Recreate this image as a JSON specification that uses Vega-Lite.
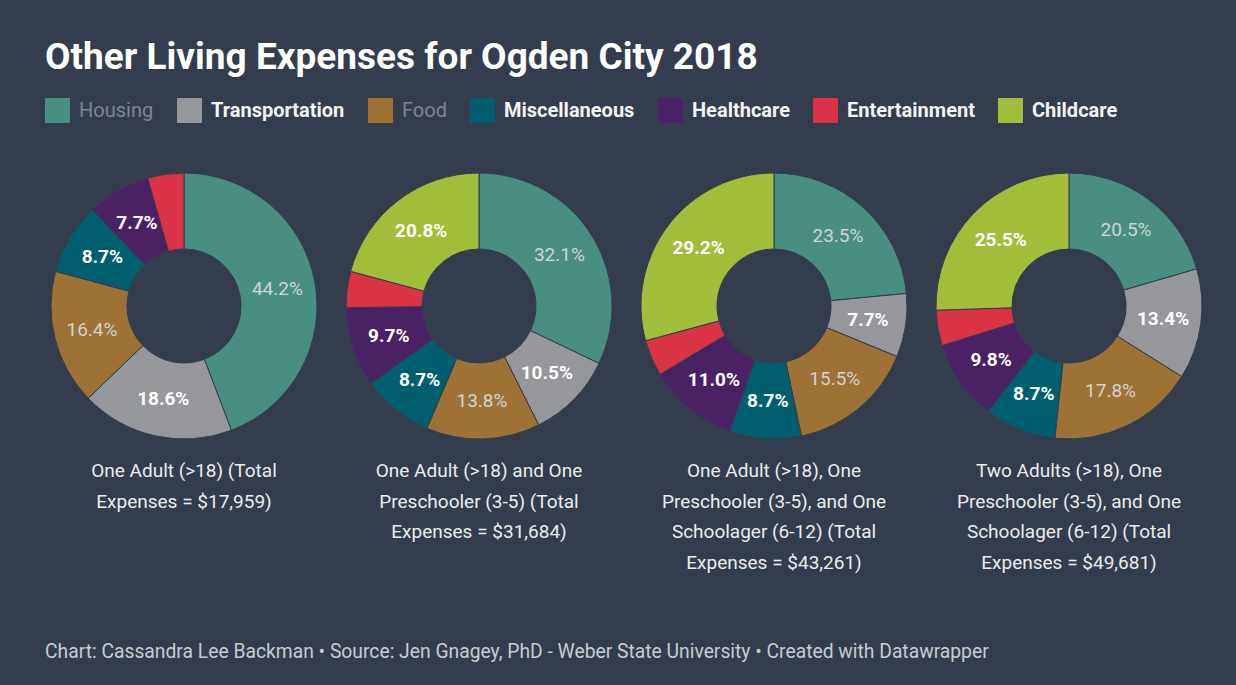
{
  "$schema": "https://vega.github.io/schema/vega-lite/v6.json",
  "background": "#333d4d",
  "padding": {"left": 45, "top": 39, "right": 28, "bottom": 24},
  "config": {
    "font": "Roboto",
    "view": {"stroke": null},
    "title": {"font": "Roboto"},
    "legend": {"orient": "top", "direction": "horizontal", "symbolType": "square", "symbolSize": 625, "symbolStrokeWidth": 0, "symbolOpacity": 1, "labelFontSize": 20, "labelFont": "Roboto", "labelOffset": 9, "columnPadding": 23, "offset": 45}
  },
  "datasets": {
    "expenses": [
      {"scenario": "A", "category": "Housing", "rank": 1, "value": 0.442},
      {"scenario": "A", "category": "Transportation", "rank": 2, "value": 0.186},
      {"scenario": "A", "category": "Food", "rank": 3, "value": 0.164},
      {"scenario": "A", "category": "Miscellaneous", "rank": 4, "value": 0.087},
      {"scenario": "A", "category": "Healthcare", "rank": 5, "value": 0.077},
      {"scenario": "A", "category": "Entertainment", "rank": 6, "value": 0.044},
      {"scenario": "B", "category": "Housing", "rank": 1, "value": 0.321},
      {"scenario": "B", "category": "Transportation", "rank": 2, "value": 0.105},
      {"scenario": "B", "category": "Food", "rank": 3, "value": 0.138},
      {"scenario": "B", "category": "Miscellaneous", "rank": 4, "value": 0.087},
      {"scenario": "B", "category": "Healthcare", "rank": 5, "value": 0.097},
      {"scenario": "B", "category": "Entertainment", "rank": 6, "value": 0.044},
      {"scenario": "B", "category": "Childcare", "rank": 7, "value": 0.208},
      {"scenario": "C", "category": "Housing", "rank": 1, "value": 0.235},
      {"scenario": "C", "category": "Transportation", "rank": 2, "value": 0.077},
      {"scenario": "C", "category": "Food", "rank": 3, "value": 0.155},
      {"scenario": "C", "category": "Miscellaneous", "rank": 4, "value": 0.087},
      {"scenario": "C", "category": "Healthcare", "rank": 5, "value": 0.110},
      {"scenario": "C", "category": "Entertainment", "rank": 6, "value": 0.044},
      {"scenario": "C", "category": "Childcare", "rank": 7, "value": 0.292},
      {"scenario": "D", "category": "Housing", "rank": 1, "value": 0.205},
      {"scenario": "D", "category": "Transportation", "rank": 2, "value": 0.134},
      {"scenario": "D", "category": "Food", "rank": 3, "value": 0.178},
      {"scenario": "D", "category": "Miscellaneous", "rank": 4, "value": 0.087},
      {"scenario": "D", "category": "Healthcare", "rank": 5, "value": 0.098},
      {"scenario": "D", "category": "Entertainment", "rank": 6, "value": 0.043},
      {"scenario": "D", "category": "Childcare", "rank": 7, "value": 0.255}
    ]
  },
  "title": {
    "text": "Other Living Expenses for Ogden City 2018",
    "anchor": "start",
    "fontSize": 37,
    "fontWeight": "bold",
    "color": "#ffffff",
    "offset": 21
  },
  "vconcat": [
    {
      "title": {
        "text": "Chart: Cassandra Lee Backman • Source: Jen Gnagey, PhD - Weber State University • Created with Datawrapper",
        "orient": "bottom",
        "anchor": "start",
        "fontSize": 19.3,
        "fontWeight": "normal",
        "color": "#c8ccd1",
        "offset": 70
      },
      "resolve": {"scale": {"theta": "independent", "color": "shared"}, "legend": {"color": "shared"}},
      "spacing": 17,
      "hconcat": [
        {
          "width": 278, "height": 276,
          "data": {"name": "expenses"},
          "transform": [{"filter": "datum.scenario === 'A'"}],
          "title": {"text": ["One Adult (>18) (Total", "Expenses = $17,959)"], "orient": "bottom", "anchor": "middle", "fontSize": 19, "fontWeight": "normal", "color": "#ececec", "lineHeight": 30.6, "offset": 18},
          "encoding": {
            "theta": {"field": "value", "type": "quantitative", "stack": true},
            "order": {"field": "rank", "type": "quantitative"}
          },
          "layer": [
            {"mark": {"type": "arc", "outerRadius": 133, "innerRadius": 57, "stroke": "#333d4d", "strokeWidth": 1},
             "encoding": {"color": {"field": "category", "type": "nominal",
               "scale": {"domain": ["Housing", "Transportation", "Food", "Miscellaneous", "Healthcare", "Entertainment", "Childcare"],
                         "range": ["#488f81", "#96979b", "#9d7234", "#005f6e", "#4a2165", "#d93345", "#a1bd3a"]},
               "legend": {"title": null,
                 "labelColor": {"expr": "datum.value === 'Housing' || datum.value === 'Food' ? '#7e8592' : '#f4f4f4'"},
                 "labelFontWeight": {"expr": "datum.value === 'Housing' || datum.value === 'Food' ? 'normal' : 'bold'"}}}}},
            {"mark": {"type": "text", "radius": 95, "fontSize": 19, "fontWeight": "normal", "fill": "#cdd5d3"},
             "encoding": {"detail": {"field": "category"}, "text": {"condition": {"test": "datum.category === 'Housing' || datum.category === 'Food'", "field": "value", "format": ".1%"}, "value": ""}}},
            {"mark": {"type": "text", "radius": 95, "fontSize": 19, "fontWeight": "bold", "fill": "#ffffff"},
             "encoding": {"detail": {"field": "category"}, "text": {"condition": {"test": "datum.category !== 'Housing' && datum.category !== 'Food' && datum.category !== 'Entertainment'", "field": "value", "format": ".1%"}, "value": ""}}}
          ]
        },
        {
          "width": 278, "height": 276,
          "data": {"name": "expenses"},
          "transform": [{"filter": "datum.scenario === 'B'"}],
          "title": {"text": ["One Adult (>18) and One", "Preschooler (3-5) (Total", "Expenses = $31,684)"], "orient": "bottom", "anchor": "middle", "fontSize": 19, "fontWeight": "normal", "color": "#ececec", "lineHeight": 30.6, "offset": 18},
          "encoding": {
            "theta": {"field": "value", "type": "quantitative", "stack": true},
            "order": {"field": "rank", "type": "quantitative"}
          },
          "layer": [
            {"mark": {"type": "arc", "outerRadius": 133, "innerRadius": 57, "stroke": "#333d4d", "strokeWidth": 1},
             "encoding": {"color": {"field": "category", "type": "nominal"}}},
            {"mark": {"type": "text", "radius": 95, "fontSize": 19, "fontWeight": "normal", "fill": "#cdd5d3"},
             "encoding": {"detail": {"field": "category"}, "text": {"condition": {"test": "datum.category === 'Housing' || datum.category === 'Food'", "field": "value", "format": ".1%"}, "value": ""}}},
            {"mark": {"type": "text", "radius": 95, "fontSize": 19, "fontWeight": "bold", "fill": "#ffffff"},
             "encoding": {"detail": {"field": "category"}, "text": {"condition": {"test": "datum.category !== 'Housing' && datum.category !== 'Food' && datum.category !== 'Entertainment'", "field": "value", "format": ".1%"}, "value": ""}}}
          ]
        },
        {
          "width": 278, "height": 276,
          "data": {"name": "expenses"},
          "transform": [{"filter": "datum.scenario === 'C'"}],
          "title": {"text": ["One Adult (>18), One", "Preschooler (3-5), and One", "Schoolager (6-12) (Total", "Expenses = $43,261)"], "orient": "bottom", "anchor": "middle", "fontSize": 19, "fontWeight": "normal", "color": "#ececec", "lineHeight": 30.6, "offset": 18},
          "encoding": {
            "theta": {"field": "value", "type": "quantitative", "stack": true},
            "order": {"field": "rank", "type": "quantitative"}
          },
          "layer": [
            {"mark": {"type": "arc", "outerRadius": 133, "innerRadius": 57, "stroke": "#333d4d", "strokeWidth": 1},
             "encoding": {"color": {"field": "category", "type": "nominal"}}},
            {"mark": {"type": "text", "radius": 95, "fontSize": 19, "fontWeight": "normal", "fill": "#cdd5d3"},
             "encoding": {"detail": {"field": "category"}, "text": {"condition": {"test": "datum.category === 'Housing' || datum.category === 'Food'", "field": "value", "format": ".1%"}, "value": ""}}},
            {"mark": {"type": "text", "radius": 95, "fontSize": 19, "fontWeight": "bold", "fill": "#ffffff"},
             "encoding": {"detail": {"field": "category"}, "text": {"condition": {"test": "datum.category !== 'Housing' && datum.category !== 'Food' && datum.category !== 'Entertainment'", "field": "value", "format": ".1%"}, "value": ""}}}
          ]
        },
        {
          "width": 278, "height": 276,
          "data": {"name": "expenses"},
          "transform": [{"filter": "datum.scenario === 'D'"}],
          "title": {"text": ["Two Adults (>18), One", "Preschooler (3-5), and One", "Schoolager (6-12) (Total", "Expenses = $49,681)"], "orient": "bottom", "anchor": "middle", "fontSize": 19, "fontWeight": "normal", "color": "#ececec", "lineHeight": 30.6, "offset": 18},
          "encoding": {
            "theta": {"field": "value", "type": "quantitative", "stack": true},
            "order": {"field": "rank", "type": "quantitative"}
          },
          "layer": [
            {"mark": {"type": "arc", "outerRadius": 133, "innerRadius": 57, "stroke": "#333d4d", "strokeWidth": 1},
             "encoding": {"color": {"field": "category", "type": "nominal"}}},
            {"mark": {"type": "text", "radius": 95, "fontSize": 19, "fontWeight": "normal", "fill": "#cdd5d3"},
             "encoding": {"detail": {"field": "category"}, "text": {"condition": {"test": "datum.category === 'Housing' || datum.category === 'Food'", "field": "value", "format": ".1%"}, "value": ""}}},
            {"mark": {"type": "text", "radius": 95, "fontSize": 19, "fontWeight": "bold", "fill": "#ffffff"},
             "encoding": {"detail": {"field": "category"}, "text": {"condition": {"test": "datum.category !== 'Housing' && datum.category !== 'Food' && datum.category !== 'Entertainment'", "field": "value", "format": ".1%"}, "value": ""}}}
          ]
        }
      ]
    }
  ]
}
